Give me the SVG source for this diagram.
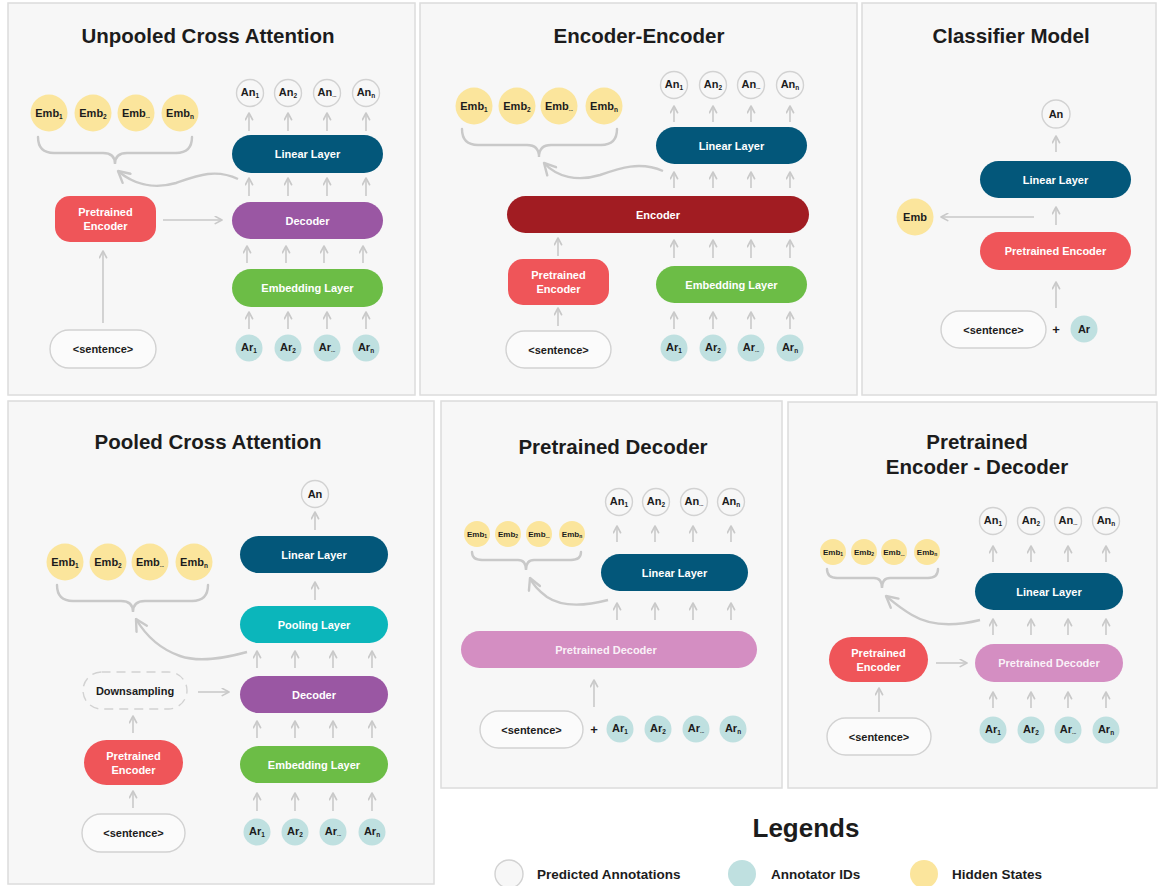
<svg xmlns="http://www.w3.org/2000/svg" width="1158" height="886" viewBox="0 0 1158 886">
<style>
.panel{fill:#f7f7f7;stroke:#dcdcdc;stroke-width:1.5}
.title{font-family:"Liberation Sans",Arial,sans-serif;font-weight:700;font-size:20.5px;fill:#1c1c1c;text-anchor:middle}
.t{font-family:"Liberation Sans",Arial,sans-serif;font-weight:700;font-size:11px;fill:#fff;text-anchor:middle;dominant-baseline:central}
.dk{fill:#1c1c1c}
.sm{font-size:8px}
.sub{font-size:6.5px}
.sub2{font-size:5px}
.an{fill:#f7f7f7;stroke:#d2d2d2;stroke-width:1.4}
.ar{fill:#bfe0e0}
.emb{fill:#fbe59c}
.lin{fill:#03577a}
.dec{fill:#9a57a3}
.embl{fill:#6cbd46}
.pe{fill:#ef5559}
.enc{fill:#a11c22}
.pool{fill:#0bb6bb}
.pd{fill:#d48ec2}
.sent{fill:#fbfbfb;stroke:#d2d2d2;stroke-width:1.4}
.ds{fill:#f7f7f7;stroke:#d2d2d2;stroke-width:1.4;stroke-dasharray:9 6}
.c{stroke:#c9c9c9;stroke-width:1.6;fill:none;marker-end:url(#ah)}
.cb{stroke:#c9c9c9;stroke-width:2.4;fill:none;marker-end:url(#ahL)}
.brace{stroke:#c9c9c9;stroke-width:2.4;fill:none;stroke-linecap:round}
.plus{font-family:"Liberation Sans",Arial,sans-serif;font-weight:700;font-size:13px;fill:#1c1c1c;text-anchor:middle;dominant-baseline:central}
.leg{font-family:"Liberation Sans",Arial,sans-serif;font-weight:700;font-size:13.5px;fill:#1c1c1c;dominant-baseline:central}
</style>
<defs>
<marker id="ah" viewBox="0 0 10 10" refX="9" refY="5" markerWidth="9" markerHeight="9" markerUnits="userSpaceOnUse" orient="auto">
<path d="M1.5,1 L9,5 L1.5,9" fill="none" stroke="#c9c9c9" stroke-width="1.8" stroke-linecap="round" stroke-linejoin="round"/>
</marker>
<marker id="ahL" viewBox="0 0 10 10" refX="9" refY="5" markerWidth="15" markerHeight="15" markerUnits="userSpaceOnUse" orient="auto">
<path d="M1.5,1 L9,5 L1.5,9" fill="none" stroke="#c9c9c9" stroke-width="1.6" stroke-linecap="round" stroke-linejoin="round"/>
</marker>
</defs>
<rect width="1158" height="886" fill="#ffffff"/>

<!-- Panels -->
<g id="panels">
<rect class="panel" x="8" y="3" width="407" height="392"/>
<rect class="panel" x="420" y="3" width="437" height="392"/>
<rect class="panel" x="862" y="3" width="294" height="392"/>
<rect class="panel" x="8" y="401" width="426" height="483"/>
<rect class="panel" x="441" y="401" width="341" height="387"/>
<rect class="panel" x="788" y="402" width="369" height="386"/>
</g>

<g id="titles">
<text class="title" x="208" y="43">Unpooled Cross Attention</text>
<text class="title" x="639" y="43">Encoder-Encoder</text>
<text class="title" x="1011" y="43">Classifier Model</text>
<text class="title" x="208" y="449">Pooled Cross Attention</text>
<text class="title" x="613" y="454">Pretrained Decoder</text>
<text class="title" x="977" y="449">Pretrained</text>
<text class="title" x="977" y="474">Encoder - Decoder</text>
</g>

<!-- Connectors -->
<g id="connectors">
<!-- panel 1 -->
<line class="c" x1="249" y1="131" x2="249" y2="113"/>
<line class="c" x1="288" y1="131" x2="288" y2="113"/>
<line class="c" x1="327" y1="131" x2="327" y2="113"/>
<line class="c" x1="366" y1="131" x2="366" y2="113"/>
<line class="c" x1="249" y1="196" x2="249" y2="178"/>
<line class="c" x1="288" y1="196" x2="288" y2="178"/>
<line class="c" x1="327" y1="196" x2="327" y2="178"/>
<line class="c" x1="366" y1="196" x2="366" y2="178"/>
<line class="c" x1="247" y1="263" x2="247" y2="246"/>
<line class="c" x1="286" y1="263" x2="286" y2="246"/>
<line class="c" x1="324" y1="263" x2="324" y2="246"/>
<line class="c" x1="363" y1="263" x2="363" y2="246"/>
<line class="c" x1="249" y1="329" x2="249" y2="312"/>
<line class="c" x1="288" y1="329" x2="288" y2="312"/>
<line class="c" x1="327" y1="329" x2="327" y2="312"/>
<line class="c" x1="366" y1="329" x2="366" y2="312"/>
<line class="c" x1="163" y1="220" x2="222" y2="220"/>
<line class="c" x1="103" y1="323" x2="103" y2="251"/>
<path class="brace" d="M38,137 Q38,153 54,153 L103,153 Q115,153 115,164 Q115,153 127,153 L176,153 Q192,153 192,137"/>
<path class="cb" d="M238,179 C215,168 196,176 176,183 C152,190 132,183 118,171"/>
<!-- panel 2 -->
<line class="c" x1="674" y1="122" x2="674" y2="106"/>
<line class="c" x1="713" y1="122" x2="713" y2="106"/>
<line class="c" x1="751" y1="122" x2="751" y2="106"/>
<line class="c" x1="790" y1="122" x2="790" y2="106"/>
<line class="c" x1="674" y1="188" x2="674" y2="172"/>
<line class="c" x1="713" y1="188" x2="713" y2="172"/>
<line class="c" x1="751" y1="188" x2="751" y2="172"/>
<line class="c" x1="790" y1="188" x2="790" y2="172"/>
<line class="c" x1="674" y1="258" x2="674" y2="240"/>
<line class="c" x1="713" y1="258" x2="713" y2="240"/>
<line class="c" x1="751" y1="258" x2="751" y2="240"/>
<line class="c" x1="790" y1="258" x2="790" y2="240"/>
<line class="c" x1="558" y1="256" x2="558" y2="238"/>
<line class="c" x1="674" y1="329" x2="674" y2="312"/>
<line class="c" x1="713" y1="329" x2="713" y2="312"/>
<line class="c" x1="751" y1="329" x2="751" y2="312"/>
<line class="c" x1="790" y1="329" x2="790" y2="312"/>
<line class="c" x1="558" y1="326" x2="558" y2="308"/>
<path class="brace" d="M462,129 Q462,145 478,145 L527,145 Q539,145 539,157 Q539,145 551,145 L601,145 Q617,145 617,129"/>
<path class="cb" d="M663,171 C640,161 620,168 600,175 C577,182 557,177 544,163"/>
<!-- panel 3 -->
<line class="c" x1="1056" y1="152" x2="1056" y2="136"/>
<line class="c" x1="1056" y1="225" x2="1056" y2="207"/>
<line class="c" x1="1034" y1="217" x2="941" y2="217"/>
<line class="c" x1="1056" y1="308" x2="1056" y2="282"/>
<!-- panel 4 -->
<line class="c" x1="315" y1="530" x2="315" y2="512"/>
<line class="c" x1="315" y1="600" x2="315" y2="582"/>
<line class="c" x1="257" y1="668" x2="257" y2="651"/>
<line class="c" x1="295" y1="668" x2="295" y2="651"/>
<line class="c" x1="333" y1="668" x2="333" y2="651"/>
<line class="c" x1="372" y1="668" x2="372" y2="651"/>
<line class="c" x1="257" y1="738" x2="257" y2="721"/>
<line class="c" x1="295" y1="738" x2="295" y2="721"/>
<line class="c" x1="333" y1="738" x2="333" y2="721"/>
<line class="c" x1="372" y1="738" x2="372" y2="721"/>
<line class="c" x1="257" y1="811" x2="257" y2="793"/>
<line class="c" x1="295" y1="811" x2="295" y2="793"/>
<line class="c" x1="333" y1="811" x2="333" y2="793"/>
<line class="c" x1="372" y1="811" x2="372" y2="793"/>
<line class="c" x1="198" y1="692" x2="229" y2="692"/>
<line class="c" x1="133" y1="733" x2="133" y2="716"/>
<line class="c" x1="133" y1="808" x2="133" y2="791"/>
<path class="brace" d="M57,585 Q57,601 73,601 L121,601 Q133,601 133,612 Q133,601 145,601 L192,601 Q208,601 208,585"/>
<path class="cb" d="M247,652 C225,658 200,663 180,656 C160,649 146,636 136,619"/>
<!-- panel 5 -->
<line class="c" x1="617" y1="542" x2="617" y2="526"/>
<line class="c" x1="655" y1="542" x2="655" y2="526"/>
<line class="c" x1="693" y1="542" x2="693" y2="526"/>
<line class="c" x1="731" y1="542" x2="731" y2="526"/>
<line class="c" x1="617" y1="620" x2="617" y2="603"/>
<line class="c" x1="655" y1="620" x2="655" y2="603"/>
<line class="c" x1="693" y1="620" x2="693" y2="603"/>
<line class="c" x1="731" y1="620" x2="731" y2="603"/>
<line class="c" x1="594" y1="707" x2="594" y2="680"/>
<path class="brace" d="M472,552 Q472,560 482,560 L518,560 Q526,560 526,570 Q526,560 534,560 L571,560 Q581,560 581,552"/>
<path class="cb" d="M608,600 C585,606 562,607 547,597 C539,591 533,585 530,578"/>
<!-- panel 6 -->
<line class="c" x1="993" y1="562" x2="993" y2="546"/>
<line class="c" x1="1031" y1="562" x2="1031" y2="546"/>
<line class="c" x1="1068" y1="562" x2="1068" y2="546"/>
<line class="c" x1="1106" y1="562" x2="1106" y2="546"/>
<line class="c" x1="993" y1="635" x2="993" y2="619"/>
<line class="c" x1="1031" y1="635" x2="1031" y2="619"/>
<line class="c" x1="1068" y1="635" x2="1068" y2="619"/>
<line class="c" x1="1106" y1="635" x2="1106" y2="619"/>
<line class="c" x1="993" y1="708" x2="993" y2="692"/>
<line class="c" x1="1031" y1="708" x2="1031" y2="692"/>
<line class="c" x1="1068" y1="708" x2="1068" y2="692"/>
<line class="c" x1="1106" y1="708" x2="1106" y2="692"/>
<line class="c" x1="936" y1="663" x2="967" y2="663"/>
<line class="c" x1="879" y1="712" x2="879" y2="688"/>
<path class="brace" d="M827,569 Q827,578 837,578 L874,578 Q882,578 882,588 Q882,578 890,578 L928,578 Q938,578 938,569"/>
<path class="cb" d="M980,620 C956,626 932,627 912,615 C900,608 892,601 886,596"/>
</g>

<!-- Panel 1 nodes -->
<g id="p1-emb1"><circle class="emb" cx="49" cy="113" r="18.5"/><text class="t dk" x="49" y="113">Emb<tspan class="sub" dy="3">1</tspan></text></g>
<g id="p1-emb2"><circle class="emb" cx="93" cy="113" r="18.5"/><text class="t dk" x="93" y="113">Emb<tspan class="sub" dy="3">2</tspan></text></g>
<g id="p1-emb3"><circle class="emb" cx="136" cy="113" r="18.5"/><text class="t dk" x="136" y="113">Emb<tspan class="sub2" dy="3">...</tspan></text></g>
<g id="p1-emb4"><circle class="emb" cx="180" cy="113" r="18.5"/><text class="t dk" x="180" y="113">Emb<tspan class="sub" dy="3">n</tspan></text></g>
<g id="p1-an1"><circle class="an" cx="250" cy="93" r="13.5"/><text class="t dk" x="250" y="92">An<tspan class="sub" dy="3">1</tspan></text></g>
<g id="p1-an2"><circle class="an" cx="288" cy="93" r="13.5"/><text class="t dk" x="288" y="92">An<tspan class="sub" dy="3">2</tspan></text></g>
<g id="p1-an3"><circle class="an" cx="327" cy="93" r="13.5"/><text class="t dk" x="327" y="92">An<tspan class="sub2" dy="3">...</tspan></text></g>
<g id="p1-an4"><circle class="an" cx="366" cy="93" r="13.5"/><text class="t dk" x="366" y="92">An<tspan class="sub" dy="3">n</tspan></text></g>
<g id="p1-linear"><rect class="lin" x="232" y="135" width="151" height="38" rx="19"/><text class="t" x="307.5" y="154">Linear Layer</text></g>
<g id="p1-decoder"><rect class="dec" x="232" y="202" width="151" height="37" rx="18.5"/><text class="t" x="307.5" y="220.5">Decoder</text></g>
<g id="p1-embedding"><rect class="embl" x="232" y="269" width="151" height="38" rx="19"/><text class="t" x="307.5" y="288">Embedding Layer</text></g>
<g id="p1-ar1"><circle class="ar" cx="249" cy="348" r="13.5"/><text class="t dk" x="249" y="347">Ar<tspan class="sub" dy="3">1</tspan></text></g>
<g id="p1-ar2"><circle class="ar" cx="288" cy="348" r="13.5"/><text class="t dk" x="288" y="347">Ar<tspan class="sub" dy="3">2</tspan></text></g>
<g id="p1-ar3"><circle class="ar" cx="327" cy="348" r="13.5"/><text class="t dk" x="327" y="347">Ar<tspan class="sub2" dy="3">...</tspan></text></g>
<g id="p1-ar4"><circle class="ar" cx="366" cy="348" r="13.5"/><text class="t dk" x="366" y="347">Ar<tspan class="sub" dy="3">n</tspan></text></g>
<g id="p1-pe"><rect class="pe" x="55" y="196" width="101" height="46" rx="15"/><text class="t" x="105.5" y="212">Pretrained</text><text class="t" x="105.5" y="226">Encoder</text></g>
<g id="p1-sentence"><rect class="sent" x="50" y="330" width="106" height="38" rx="19"/><text class="t dk" x="103" y="349">&lt;sentence&gt;</text></g>

<!-- Panel 2 nodes -->
<g id="p2-emb1"><circle class="emb" cx="474" cy="106" r="18.5"/><text class="t dk" x="474" y="106">Emb<tspan class="sub" dy="3">1</tspan></text></g>
<g id="p2-emb2"><circle class="emb" cx="517" cy="106" r="18.5"/><text class="t dk" x="517" y="106">Emb<tspan class="sub" dy="3">2</tspan></text></g>
<g id="p2-emb3"><circle class="emb" cx="559" cy="106" r="18.5"/><text class="t dk" x="559" y="106">Emb<tspan class="sub2" dy="3">...</tspan></text></g>
<g id="p2-emb4"><circle class="emb" cx="604" cy="106" r="18.5"/><text class="t dk" x="604" y="106">Emb<tspan class="sub" dy="3">n</tspan></text></g>
<g id="p2-an1"><circle class="an" cx="674" cy="85" r="13.5"/><text class="t dk" x="674" y="84">An<tspan class="sub" dy="3">1</tspan></text></g>
<g id="p2-an2"><circle class="an" cx="713" cy="85" r="13.5"/><text class="t dk" x="713" y="84">An<tspan class="sub" dy="3">2</tspan></text></g>
<g id="p2-an3"><circle class="an" cx="751" cy="85" r="13.5"/><text class="t dk" x="751" y="84">An<tspan class="sub2" dy="3">...</tspan></text></g>
<g id="p2-an4"><circle class="an" cx="790" cy="85" r="13.5"/><text class="t dk" x="790" y="84">An<tspan class="sub" dy="3">n</tspan></text></g>
<g id="p2-linear"><rect class="lin" x="656" y="127" width="151" height="37" rx="18.5"/><text class="t" x="731.5" y="145.5">Linear Layer</text></g>
<g id="p2-encoder"><rect class="enc" x="507" y="196" width="302" height="37" rx="18.5"/><text class="t" x="658" y="214.5">Encoder</text></g>
<g id="p2-pe"><rect class="pe" x="508" y="259" width="101" height="46" rx="15"/><text class="t" x="558.5" y="275">Pretrained</text><text class="t" x="558.5" y="289">Encoder</text></g>
<g id="p2-embedding"><rect class="embl" x="656" y="266" width="151" height="37" rx="18.5"/><text class="t" x="731.5" y="284.5">Embedding Layer</text></g>
<g id="p2-ar1"><circle class="ar" cx="674" cy="348" r="13.5"/><text class="t dk" x="674" y="347">Ar<tspan class="sub" dy="3">1</tspan></text></g>
<g id="p2-ar2"><circle class="ar" cx="713" cy="348" r="13.5"/><text class="t dk" x="713" y="347">Ar<tspan class="sub" dy="3">2</tspan></text></g>
<g id="p2-ar3"><circle class="ar" cx="751" cy="348" r="13.5"/><text class="t dk" x="751" y="347">Ar<tspan class="sub2" dy="3">...</tspan></text></g>
<g id="p2-ar4"><circle class="ar" cx="790" cy="348" r="13.5"/><text class="t dk" x="790" y="347">Ar<tspan class="sub" dy="3">n</tspan></text></g>
<g id="p2-sentence"><rect class="sent" x="506" y="331" width="105" height="37" rx="18.5"/><text class="t dk" x="558.5" y="349.5">&lt;sentence&gt;</text></g>

<!-- Panel 3 nodes -->
<g id="p3-an"><circle class="an" cx="1056" cy="114" r="14"/><text class="t dk" x="1056" y="114">An</text></g>
<g id="p3-linear"><rect class="lin" x="980" y="161" width="151" height="37" rx="18.5"/><text class="t" x="1055.5" y="179.5">Linear Layer</text></g>
<g id="p3-emb"><circle class="emb" cx="915" cy="217" r="18.5"/><text class="t dk" x="915" y="217">Emb</text></g>
<g id="p3-pe"><rect class="pe" x="980" y="232" width="151" height="38" rx="19"/><text class="t" x="1055.5" y="251">Pretrained Encoder</text></g>
<g id="p3-sentence"><rect class="sent" x="941" y="311" width="105" height="37" rx="18.5"/><text class="t dk" x="993.5" y="329.5">&lt;sentence&gt;</text></g>
<g id="p3-plus"><text class="plus" x="1056" y="329">+</text></g>
<g id="p3-ar"><circle class="ar" cx="1084" cy="329" r="13.5"/><text class="t dk" x="1084" y="329">Ar</text></g>

<!-- Panel 4 nodes -->
<g id="p4-an"><circle class="an" cx="315" cy="494" r="13.5"/><text class="t dk" x="315" y="494">An</text></g>
<g id="p4-linear"><rect class="lin" x="240" y="536" width="148" height="37" rx="18.5"/><text class="t" x="314" y="554.5">Linear Layer</text></g>
<g id="p4-pooling"><rect class="pool" x="240" y="606" width="148" height="37" rx="18.5"/><text class="t" x="314" y="624.5">Pooling Layer</text></g>
<g id="p4-decoder"><rect class="dec" x="240" y="676" width="148" height="37" rx="18.5"/><text class="t" x="314" y="694.5">Decoder</text></g>
<g id="p4-embedding"><rect class="embl" x="240" y="746" width="148" height="37" rx="18.5"/><text class="t" x="314" y="764.5">Embedding Layer</text></g>
<g id="p4-ar1"><circle class="ar" cx="257" cy="832" r="13.5"/><text class="t dk" x="257" y="831">Ar<tspan class="sub" dy="3">1</tspan></text></g>
<g id="p4-ar2"><circle class="ar" cx="295" cy="832" r="13.5"/><text class="t dk" x="295" y="831">Ar<tspan class="sub" dy="3">2</tspan></text></g>
<g id="p4-ar3"><circle class="ar" cx="333" cy="832" r="13.5"/><text class="t dk" x="333" y="831">Ar<tspan class="sub2" dy="3">...</tspan></text></g>
<g id="p4-ar4"><circle class="ar" cx="372" cy="832" r="13.5"/><text class="t dk" x="372" y="831">Ar<tspan class="sub" dy="3">n</tspan></text></g>
<g id="p4-emb1"><circle class="emb" cx="65" cy="562" r="18.5"/><text class="t dk" x="65" y="562">Emb<tspan class="sub" dy="3">1</tspan></text></g>
<g id="p4-emb2"><circle class="emb" cx="108" cy="562" r="18.5"/><text class="t dk" x="108" y="562">Emb<tspan class="sub" dy="3">2</tspan></text></g>
<g id="p4-emb3"><circle class="emb" cx="150" cy="562" r="18.5"/><text class="t dk" x="150" y="562">Emb<tspan class="sub2" dy="3">...</tspan></text></g>
<g id="p4-emb4"><circle class="emb" cx="194" cy="562" r="18.5"/><text class="t dk" x="194" y="562">Emb<tspan class="sub" dy="3">n</tspan></text></g>
<g id="p4-downsampling"><rect class="ds" x="83" y="672" width="104" height="37" rx="18.5"/><text class="t dk" x="135" y="690.5">Downsampling</text></g>
<g id="p4-pe"><rect class="pe" x="84" y="740" width="99" height="45" rx="22.5"/><text class="t" x="133.5" y="756">Pretrained</text><text class="t" x="133.5" y="770">Encoder</text></g>
<g id="p4-sentence"><rect class="sent" x="82" y="814" width="103" height="38" rx="19"/><text class="t dk" x="133.5" y="833">&lt;sentence&gt;</text></g>

<!-- Panel 5 nodes -->
<g id="p5-an1"><circle class="an" cx="619" cy="502" r="13.5"/><text class="t dk" x="619" y="501">An<tspan class="sub" dy="3">1</tspan></text></g>
<g id="p5-an2"><circle class="an" cx="656" cy="502" r="13.5"/><text class="t dk" x="656" y="501">An<tspan class="sub" dy="3">2</tspan></text></g>
<g id="p5-an3"><circle class="an" cx="694" cy="502" r="13.5"/><text class="t dk" x="694" y="501">An<tspan class="sub2" dy="3">...</tspan></text></g>
<g id="p5-an4"><circle class="an" cx="731" cy="502" r="13.5"/><text class="t dk" x="731" y="501">An<tspan class="sub" dy="3">n</tspan></text></g>
<g id="p5-emb1"><circle class="emb" cx="477" cy="534" r="13"/><text class="t dk sm" x="477" y="534">Emb<tspan class="sub2" dy="2">1</tspan></text></g>
<g id="p5-emb2"><circle class="emb" cx="508" cy="534" r="13"/><text class="t dk sm" x="508" y="534">Emb<tspan class="sub2" dy="2">2</tspan></text></g>
<g id="p5-emb3"><circle class="emb" cx="539" cy="534" r="13"/><text class="t dk sm" x="539" y="534">Emb<tspan class="sub2" dy="2">...</tspan></text></g>
<g id="p5-emb4"><circle class="emb" cx="572" cy="534" r="13"/><text class="t dk sm" x="572" y="534">Emb<tspan class="sub2" dy="2">n</tspan></text></g>
<g id="p5-linear"><rect class="lin" x="601" y="554" width="147" height="37" rx="18.5"/><text class="t" x="674.5" y="572.5">Linear Layer</text></g>
<g id="p5-pd"><rect class="pd" x="461" y="631" width="296" height="37" rx="18.5"/><text class="t" x="606" y="649.5" fill-opacity="0.9">Pretrained Decoder</text></g>
<g id="p5-sentence"><rect class="sent" x="480" y="711" width="103" height="37" rx="18.5"/><text class="t dk" x="531.5" y="729.5">&lt;sentence&gt;</text></g>
<g id="p5-plus"><text class="plus" x="594" y="729">+</text></g>
<g id="p5-ar1"><circle class="ar" cx="620" cy="729" r="13.5"/><text class="t dk" x="620" y="728">Ar<tspan class="sub" dy="3">1</tspan></text></g>
<g id="p5-ar2"><circle class="ar" cx="658" cy="729" r="13.5"/><text class="t dk" x="658" y="728">Ar<tspan class="sub" dy="3">2</tspan></text></g>
<g id="p5-ar3"><circle class="ar" cx="696" cy="729" r="13.5"/><text class="t dk" x="696" y="728">Ar<tspan class="sub2" dy="3">...</tspan></text></g>
<g id="p5-ar4"><circle class="ar" cx="733" cy="729" r="13.5"/><text class="t dk" x="733" y="728">Ar<tspan class="sub" dy="3">n</tspan></text></g>

<!-- Panel 6 nodes -->
<g id="p6-an1"><circle class="an" cx="993" cy="521" r="13.5"/><text class="t dk" x="993" y="520">An<tspan class="sub" dy="3">1</tspan></text></g>
<g id="p6-an2"><circle class="an" cx="1031" cy="521" r="13.5"/><text class="t dk" x="1031" y="520">An<tspan class="sub" dy="3">2</tspan></text></g>
<g id="p6-an3"><circle class="an" cx="1068" cy="521" r="13.5"/><text class="t dk" x="1068" y="520">An<tspan class="sub2" dy="3">...</tspan></text></g>
<g id="p6-an4"><circle class="an" cx="1106" cy="521" r="13.5"/><text class="t dk" x="1106" y="520">An<tspan class="sub" dy="3">n</tspan></text></g>
<g id="p6-emb1"><circle class="emb" cx="833" cy="552" r="13"/><text class="t dk sm" x="833" y="552">Emb<tspan class="sub2" dy="2">1</tspan></text></g>
<g id="p6-emb2"><circle class="emb" cx="864" cy="552" r="13"/><text class="t dk sm" x="864" y="552">Emb<tspan class="sub2" dy="2">2</tspan></text></g>
<g id="p6-emb3"><circle class="emb" cx="894" cy="552" r="13"/><text class="t dk sm" x="894" y="552">Emb<tspan class="sub2" dy="2">...</tspan></text></g>
<g id="p6-emb4"><circle class="emb" cx="927" cy="552" r="13"/><text class="t dk sm" x="927" y="552">Emb<tspan class="sub2" dy="2">n</tspan></text></g>
<g id="p6-linear"><rect class="lin" x="975" y="573" width="148" height="37" rx="18.5"/><text class="t" x="1049" y="591.5">Linear Layer</text></g>
<g id="p6-pd"><rect class="pd" x="975" y="644" width="148" height="38" rx="19"/><text class="t" x="1049" y="663" fill-opacity="0.9">Pretrained Decoder</text></g>
<g id="p6-pe"><rect class="pe" x="829" y="637" width="99" height="45" rx="22.5"/><text class="t" x="878.5" y="653">Pretrained</text><text class="t" x="878.5" y="667">Encoder</text></g>
<g id="p6-ar1"><circle class="ar" cx="993" cy="730" r="13.5"/><text class="t dk" x="993" y="729">Ar<tspan class="sub" dy="3">1</tspan></text></g>
<g id="p6-ar2"><circle class="ar" cx="1031" cy="730" r="13.5"/><text class="t dk" x="1031" y="729">Ar<tspan class="sub" dy="3">2</tspan></text></g>
<g id="p6-ar3"><circle class="ar" cx="1068" cy="730" r="13.5"/><text class="t dk" x="1068" y="729">Ar<tspan class="sub2" dy="3">...</tspan></text></g>
<g id="p6-ar4"><circle class="ar" cx="1106" cy="730" r="13.5"/><text class="t dk" x="1106" y="729">Ar<tspan class="sub" dy="3">n</tspan></text></g>
<g id="p6-sentence"><rect class="sent" x="827" y="718" width="104" height="37" rx="18.5"/><text class="t dk" x="879" y="736.5">&lt;sentence&gt;</text></g>

<!-- Legend -->
<g id="legend">
<text x="806" y="837" font-family="Liberation Sans, Arial, sans-serif" font-weight="700" font-size="26" fill="#1c1c1c" text-anchor="middle">Legends</text>
<circle class="an" cx="509" cy="874" r="14"/>
<text class="leg" x="537" y="874">Predicted Annotations</text>
<circle class="ar" cx="742" cy="874" r="14"/>
<text class="leg" x="771" y="874">Annotator IDs</text>
<circle class="emb" cx="924" cy="874" r="14"/>
<text class="leg" x="952" y="874">Hidden States</text>
</g>
</svg>
